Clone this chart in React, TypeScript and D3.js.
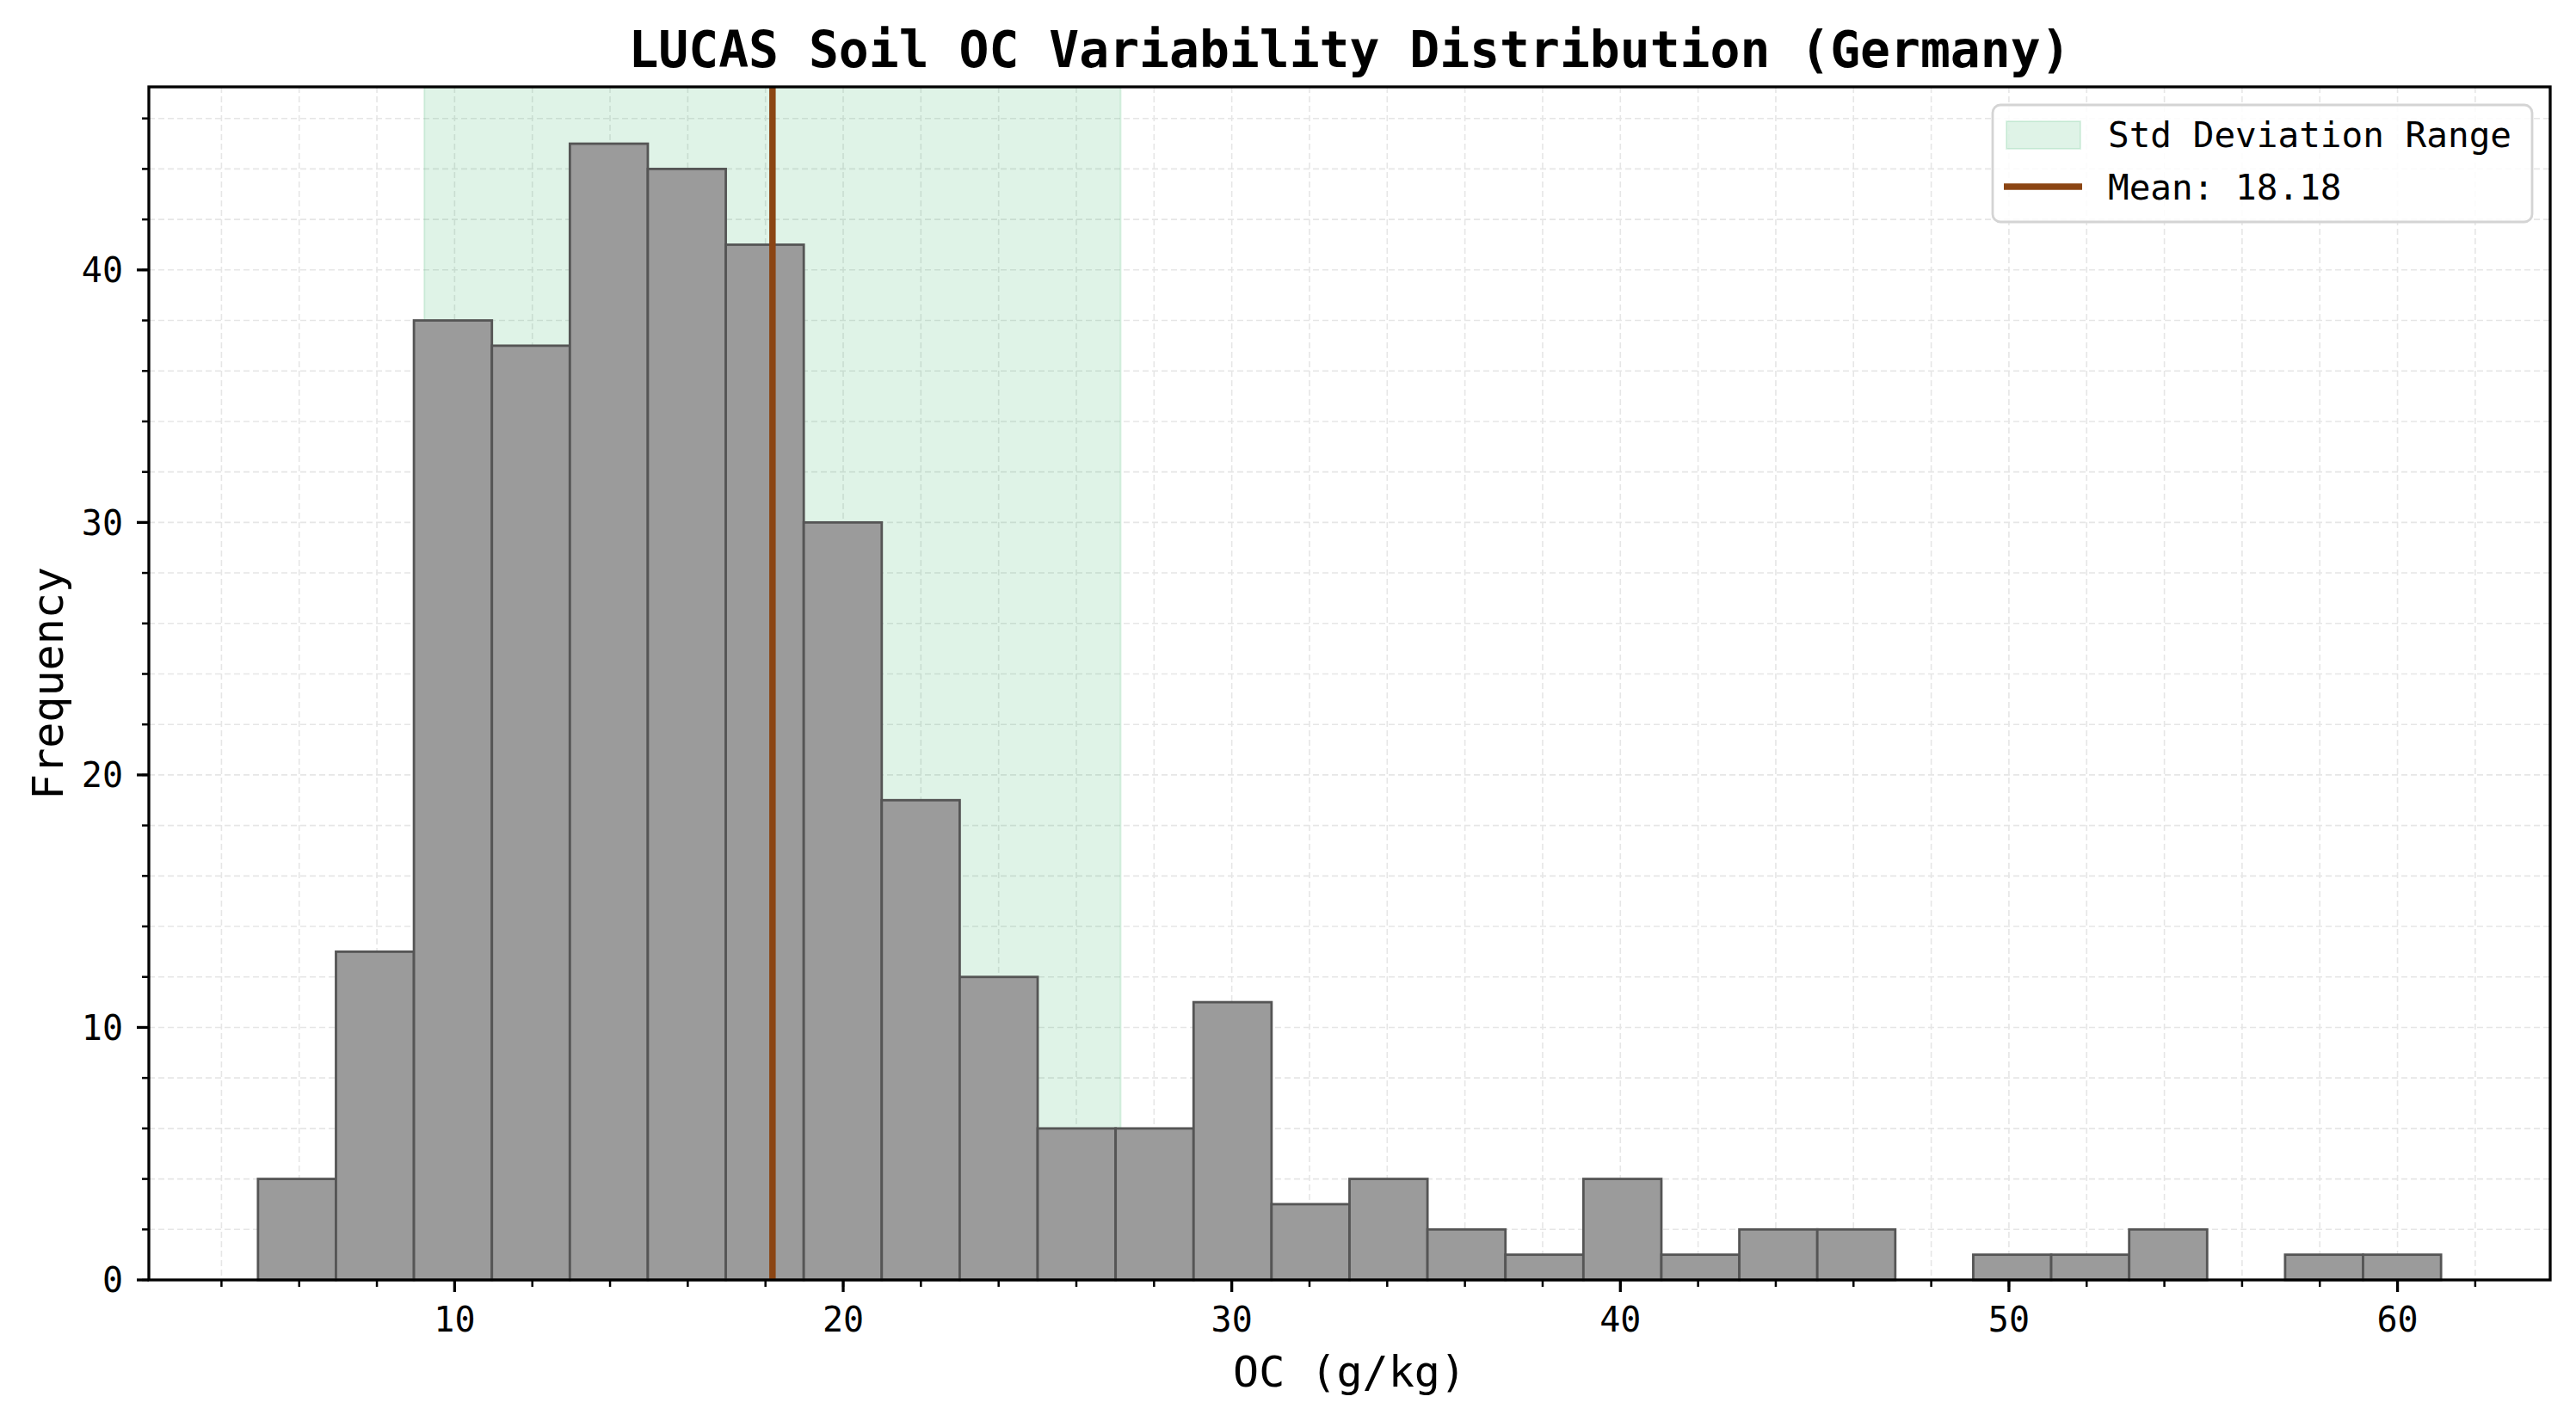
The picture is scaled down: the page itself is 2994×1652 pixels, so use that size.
import * as d3 from 'd3';

const counts = [4, 13, 38, 37, 45, 44, 41, 30, 19, 12, 6, 6, 11, 3, 4, 2, 1, 4, 1, 2, 2, 0, 1, 1, 2, 0, 1, 1];
const binMin = 4.94;
const binMax = 61.12;
const meanValue = 18.18;
const stdValue = 8.96;
const xTicks = [10, 20, 30, 40, 50, 60];
const yTicks = [0, 10, 20, 30, 40];
const legendLabels = ['Std Deviation Range', `Mean: ${meanValue.toFixed(2)}`];

const W = 2994;
const H = 1652;
const margin = { top: 101, right: 30, bottom: 164, left: 173 };
const FONT = "'DejaVu Sans Mono', monospace";
const SHADE = '#27ae60';

export default function App() {
  const innerW = W - margin.left - margin.right;
  const innerH = H - margin.top - margin.bottom;

  const binW = (binMax - binMin) / counts.length;
  const bins = counts.map((c, i) => ({ x0: binMin + i * binW, x1: binMin + (i + 1) * binW, c }));

  const pad = (binMax - binMin) * 0.05;
  const x = d3.scaleLinear().domain([binMin - pad, binMax + pad]).range([0, innerW]);
  const yMax = (d3.max(counts) ?? 1) * 1.05;
  const y = d3.scaleLinear().domain([0, yMax]).range([innerH, 0]);

  const xMinor = d3.range(4, 64, 2).filter((v) => v >= x.domain()[0] && v <= x.domain()[1]);
  const yMinor = d3.range(0, yMax, 2);

  return (
    <div style={{ position: 'absolute', left: 0, top: 0, background: '#fff' }}>
      <svg width={W} height={H} viewBox={`0 0 ${W} ${H}`} fontFamily={FONT}>
        <rect width={W} height={H} fill='#fff' />
        <text x={margin.left + innerW / 2} y={78} textAnchor='middle' fontSize={58} fontWeight='bold'>
          LUCAS Soil OC Variability Distribution (Germany)
        </text>
        <g transform={`translate(${margin.left},${margin.top})`}>
          {/* grid */}
          {xMinor.map((v) => (
            <line key={'gx' + v} x1={x(v)} x2={x(v)} y1={0} y2={innerH} stroke='#e6e6e6' strokeWidth={1.6} strokeDasharray='7 4' />
          ))}
          {yMinor.map((v) => (
            <line key={'gy' + v} x1={0} x2={innerW} y1={y(v)} y2={y(v)} stroke='#e6e6e6' strokeWidth={1.6} strokeDasharray='7 4' />
          ))}

          {/* std range */}
          <rect
            x={x(meanValue - stdValue)}
            y={0}
            width={x(meanValue + stdValue) - x(meanValue - stdValue)}
            height={innerH}
            fill={SHADE}
            fillOpacity={0.15}
            stroke={SHADE}
            strokeOpacity={0.15}
            strokeWidth={2}
          />

          {/* bars */}
          {bins.map((b, i) =>
            b.c > 0 ? (
              <rect
                key={i}
                x={x(b.x0)}
                y={y(b.c)}
                width={x(b.x1) - x(b.x0)}
                height={innerH - y(b.c)}
                fill='#9b9b9b'
                stroke='#555'
                strokeWidth={2.8}
              />
            ) : null
          )}

          {/* mean */}
          <line x1={x(meanValue)} x2={x(meanValue)} y1={0} y2={innerH} stroke='#8B4513' strokeWidth={7.5} />

          {/* spines */}
          <rect x={0} y={0} width={innerW} height={innerH} fill='none' stroke='#000' strokeWidth={3.3} />

          {/* x ticks */}
          {xMinor.map((v) => (
            <line key={'mx' + v} x1={x(v)} x2={x(v)} y1={innerH} y2={innerH + 8} stroke='#000' strokeWidth={2.5} />
          ))}
          {xTicks.map((v) => (
            <g key={'tx' + v}>
              <line x1={x(v)} x2={x(v)} y1={innerH} y2={innerH + 14} stroke='#000' strokeWidth={3.3} />
              <text x={x(v)} y={innerH + 60} textAnchor='middle' fontSize={40}>
                {v}
              </text>
            </g>
          ))}

          {/* y ticks */}
          {yMinor.map((v) => (
            <line key={'my' + v} x1={-8} x2={0} y1={y(v)} y2={y(v)} stroke='#000' strokeWidth={2.5} />
          ))}
          {yTicks.map((v) => (
            <g key={'ty' + v}>
              <line x1={-14} x2={0} y1={y(v)} y2={y(v)} stroke='#000' strokeWidth={3.3} />
              <text x={-30} y={y(v)} dy='0.36em' textAnchor='end' fontSize={40}>
                {v}
              </text>
            </g>
          ))}

          {/* legend */}
          <g transform={`translate(${innerW - 648},21)`}>
            <rect x={0} y={0} width={627} height={136} rx={9} fill='#fff' fillOpacity={0.85} stroke='#d4d4d4' strokeWidth={2.8} />
            <rect x={16} y={19} width={86} height={32} fill={SHADE} fillOpacity={0.15} stroke={SHADE} strokeOpacity={0.15} strokeWidth={2} />
            <line x1={13} x2={104} y1={95} y2={95} stroke='#8B4513' strokeWidth={7.5} />
            {legendLabels.map((l, i) => (
              <text key={l} x={134} y={49 + i * 61} fontSize={41}>
                {l}
              </text>
            ))}
          </g>
        </g>

        <text x={margin.left + innerW / 2} y={1612} textAnchor='middle' fontSize={50}>
          OC (g/kg)
        </text>
        <text transform={`translate(73,${margin.top + innerH / 2}) rotate(-90)`} textAnchor='middle' fontSize={50}>
          Frequency
        </text>
      </svg>
    </div>
  );
}
